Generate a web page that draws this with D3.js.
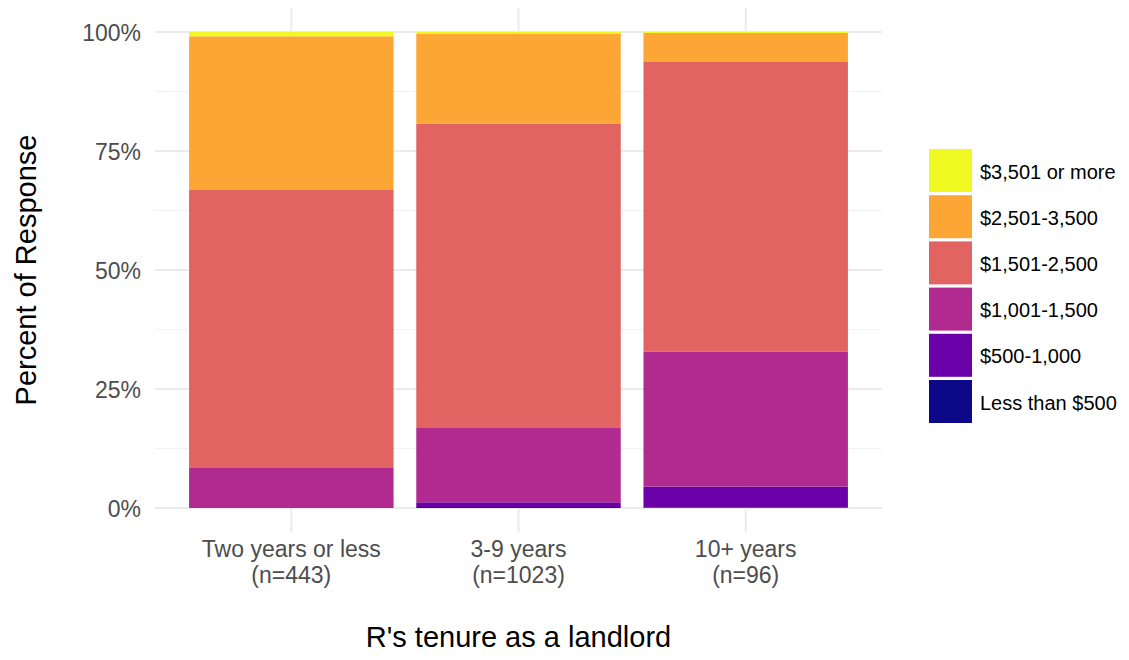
<!DOCTYPE html>
<html>
<head>
<meta charset="utf-8">
<script src="https://cdn.jsdelivr.net/npm/d3@7"></script>
<style>
  body { margin: 0; background: #fff; }
  svg { font-family: "Liberation Sans", Arial, sans-serif; }
</style>
</head>
<body>
<svg width="1129" height="660"></svg>
<script>
// categories (x axis) and their two-line labels
var tenure = ["Two years or less", "3-9 years", "10+ years"];
var tenureN = ["(n=443)", "(n=1023)", "(n=96)"];

// rent bands, bottom of the stack first
var rentBands = ["Less than $500", "$500-1,000", "$1,001-1,500", "$1,501-2,500", "$2,501-3,500", "$3,501 or more"];
var bandColors = ["#0D0887", "#6A00A8", "#B12A90", "#E16462", "#FCA636", "#F0F921"];

// percent of response in each band, one array per band (order follows tenure)
var lessThan500 = [0.0, 0.2, 0.1];
var from500 = [0.0, 1.0, 4.4];
var from1001 = [8.4, 15.6, 28.3];
var from1501 = [58.4, 63.9, 60.9];
var from2501 = [32.3, 19.0, 6.1];
var over3501 = [0.9, 0.3, 0.2];

var yTicks = [0, 25, 50, 75, 100];
var yMinor = [12.5, 37.5, 62.5, 87.5];

var series = [lessThan500, from500, from1001, from1501, from2501, over3501];

var table = tenure.map(function(t, i) {
    var row = { tenure: t };
    rentBands.forEach(function(b, j) { row[b] = series[j][i]; });
    return row;
});

var svg = d3.select("svg"),
    pLeft = 155, pRight = 882, pTop = 32, pBottom = 508;

var x = d3.scaleBand().domain(tenure).range([pLeft, pRight]).paddingInner(0.1).paddingOuter(0.15),
    y = d3.scaleLinear().domain([0, 100]).range([pBottom, pTop]);

var grid = svg.append("g");
grid.selectAll(".minor")
    .data(yMinor)
    .enter().append("line")
    .attr("x1", pLeft).attr("x2", pRight)
    .attr("y1", function(d) { return y(d); })
    .attr("y2", function(d) { return y(d); })
    .attr("stroke", "#f2f2f2").attr("stroke-width", 1);
grid.selectAll(".major")
    .data(yTicks)
    .enter().append("line")
    .attr("x1", pLeft).attr("x2", pRight)
    .attr("y1", function(d) { return y(d); })
    .attr("y2", function(d) { return y(d); })
    .attr("stroke", "#ebebeb").attr("stroke-width", 2);
grid.selectAll(".vert")
    .data(tenure)
    .enter().append("line")
    .attr("x1", function(d) { return x(d) + x.bandwidth() / 2; })
    .attr("x2", function(d) { return x(d) + x.bandwidth() / 2; })
    .attr("y1", 8).attr("y2", 532)
    .attr("stroke", "#ebebeb").attr("stroke-width", 2);

var stacked = d3.stack().keys(rentBands)(table);

svg.append("g")
   .selectAll("g")
   .data(stacked)
   .enter().append("g")
   .attr("fill", function(d, i) { return bandColors[i]; })
   .selectAll("rect")
   .data(function(d) { return d; })
   .enter().append("rect")
   .attr("x", function(d) { return x(d.data.tenure); })
   .attr("y", function(d) { return y(d[1]); })
   .attr("width", x.bandwidth())
   .attr("height", function(d) { return y(d[0]) - y(d[1]); });

// y axis labels
var yAxis = svg.append("g")
   .attr("transform", "translate(" + (pLeft - 14) + ",0)")
   .call(d3.axisLeft(y).tickValues(yTicks).tickSize(0).tickFormat(function(d) { return d + "%"; }));
yAxis.select(".domain").remove();
yAxis.selectAll("text")
   .attr("font-size", "23px")
   .attr("font-family", "Liberation Sans, Arial, sans-serif")
   .attr("fill", "#4d4d4d")
   .attr("x", 0)
   .attr("dy", "0.35em");

// x axis labels, two lines each
var xAxis = svg.append("g")
   .attr("transform", "translate(0," + pBottom + ")")
   .call(d3.axisBottom(x).tickSize(0).tickFormat(""));
xAxis.select(".domain").remove();
xAxis.selectAll(".tick text").remove();
xAxis.selectAll(".tick").each(function(d, i) {
    var t = d3.select(this).append("text")
        .attr("fill", "#4d4d4d")
        .attr("font-size", "23px")
        .attr("font-family", "Liberation Sans, Arial, sans-serif")
        .attr("text-anchor", "middle");
    t.append("tspan").attr("x", 0).attr("y", 49).text(d);
    t.append("tspan").attr("x", 0).attr("y", 75).text(tenureN[i]);
});

svg.append("text")
   .attr("x", (pLeft + pRight) / 2)
   .attr("y", 647)
   .attr("text-anchor", "middle")
   .attr("font-size", "29px")
   .attr("fill", "#000")
   .text("R's tenure as a landlord");

svg.append("text")
   .attr("transform", "translate(36," + ((pTop + pBottom) / 2) + ") rotate(-90)")
   .attr("text-anchor", "middle")
   .attr("font-size", "29px")
   .attr("fill", "#000")
   .text("Percent of Response");

// legend, top band first
var legend = svg.append("g").attr("transform", "translate(929,149)");
var legendItems = legend.selectAll("g")
   .data(rentBands.slice().reverse())
   .enter().append("g")
   .attr("transform", function(d, i) { return "translate(0," + (i * 46.2) + ")"; });
legendItems.append("rect")
   .attr("width", 43).attr("height", 43)
   .attr("fill", function(d) { return bandColors[rentBands.indexOf(d)]; });
legendItems.append("text")
   .attr("x", 51)
   .attr("y", 22.5)
   .attr("dy", "0.35em")
   .attr("font-size", "20px")
   .attr("fill", "#000")
   .text(function(d) { return d; });
</script>
</body>
</html>
